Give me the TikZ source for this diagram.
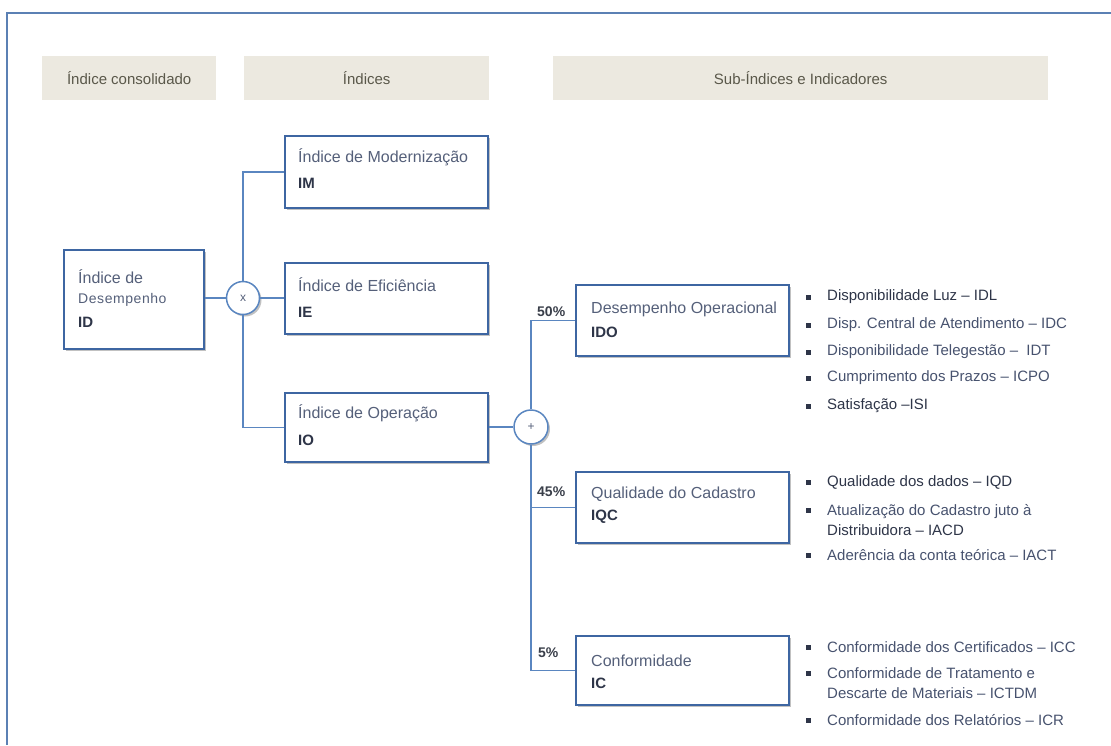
\documentclass[tikz,border=0pt]{standalone}
\usepackage{fontspec}
\setmainfont{Liberation Sans}
\usetikzlibrary{shadows}
\definecolor{framecol}{HTML}{5B80B4}
\definecolor{hdrfill}{HTML}{ECE9E0}
\definecolor{hdrtext}{HTML}{5A584A}
\definecolor{boxline}{HTML}{3E66A2}
\definecolor{conn}{HTML}{5A86C0}
\definecolor{ttext}{HTML}{55607A}
\definecolor{dtext}{HTML}{2E3548}
\definecolor{btext}{HTML}{47526E}
\definecolor{pcttext}{HTML}{3A3F4A}
\tikzset{
  hdr/.style={fill=hdrfill, draw=none, anchor=north west, inner sep=0pt,
    text=hdrtext, font=\fontsize{15}{18}\selectfont},
  ibox/.style={draw=boxline, line width=1.8pt, fill=white, anchor=north west,
    inner sep=0pt,
    drop shadow={shadow xshift=2.5pt, shadow yshift=-2.5pt, opacity=0.35, fill=black!70}},
  ttl/.style={anchor=west, inner sep=0pt, text=ttext, font=\fontsize{16}{19}\selectfont},
  code/.style={anchor=west, inner sep=0pt, text=dtext, font=\fontsize{15}{18}\selectfont\bfseries},
  opcirc/.style={circle, draw=conn, line width=1.5pt, fill=white, inner sep=0pt,
    minimum size=33pt, text=ttext, font=\fontsize{12}{14}\selectfont,
    drop shadow={shadow xshift=2pt, shadow yshift=-2pt, opacity=0.35, fill=black!70}},
  link/.style={draw=conn, line width=1.5pt},
  pct/.style={anchor=west, inner sep=0pt, text=pcttext, font=\fontsize{14}{17}\selectfont\bfseries},
  itm/.style={anchor=west, inner sep=0pt, text=btext, align=left, font=\fontsize{15}{20}\selectfont},
  itmd/.style={itm, text=dtext},
}
\newcommand{\sqbul}[1]{\fill[dtext] (805.5,#1-2.5) rectangle (810.5,#1+2.5);}
\begin{document}
\begin{tikzpicture}[x=1pt,y=-1pt]
\useasboundingbox (0,0) rectangle (1111,745);
% frame
\coordinate (fa) at (7,745);
\coordinate (fb) at (7,13);
\coordinate (fc) at (1111,13);
\draw[framecol, line width=2.5pt] (fa) -- (fb) -- (fc);
% headers
\node[hdr, minimum width=174pt, minimum height=44pt] (h1) at (42,56) {Índice consolidado};
\node[hdr, minimum width=245pt, minimum height=44pt] (h2) at (244,56) {Índices};
\node[hdr, minimum width=495pt, minimum height=44pt] (h3) at (553,56) {Sub-Índices e Indicadores};
% boxes
\node[ibox, minimum width=140pt, minimum height=99pt] (ID) at (63,249) {};
\node[ibox, minimum width=203pt, minimum height=72pt] (IM) at (284,135) {};
\node[ibox, minimum width=203pt, minimum height=71pt] (IE) at (284,262) {};
\node[ibox, minimum width=203pt, minimum height=69pt] (IO) at (284,392) {};
\node[ibox, minimum width=213pt, minimum height=71pt] (IDO) at (575,284) {};
\node[ibox, minimum width=213pt, minimum height=71pt] (IQC) at (575,471) {};
\node[ibox, minimum width=213pt, minimum height=69pt] (IC) at (575,635) {};
% circles
\node[opcirc] (xc) at (243,298) {x};
\node[opcirc, minimum size=34pt] (pc) at (531,427) {+};
% connectors
\draw[link] (xc.west) -- (xc.west -| ID.east);
\draw[link] (xc.east) -- (xc.east -| IE.west);
\draw[link] (xc.north) |- (IM.west);
\draw[link] (xc.south) |- (IO.west);
\draw[link] (pc.west) -- (pc.west -| IO.east);
\draw[link] (pc.north) |- (IDO.west);
\draw[link] (pc.south) |- (IQC.west);
\draw[link] (pc.south) |- (IC.west);
% box texts
\node[ttl] (IDt1) at ([shift={(15,28)}]ID.north west) {Índice de};
\node[ttl, font=\fontsize{14}{17}\selectfont\addfontfeature{LetterSpace=4}] (IDt2) at ([shift={(15,51)}]ID.north west) {Desempenho};
\node[code] (IDt3) at ([shift={(15,73)}]ID.north west) {ID};
\node[ttl] (IMt) at ([shift={(14,22)}]IM.north west) {Índice de Modernização};
\node[code] (IMc) at ([shift={(14,48)}]IM.north west) {IM};
\node[ttl] (IEt) at ([shift={(14,23)}]IE.north west) {Índice de Eficiência};
\node[code] (IEc) at ([shift={(14,50)}]IE.north west) {IE};
\node[ttl] (IOt) at ([shift={(14,21)}]IO.north west) {Índice de Operação};
\node[code] (IOc) at ([shift={(14,48)}]IO.north west) {IO};
\node[ttl] (IDOt) at ([shift={(16,25)}]IDO.north west) {Desempenho Operacional};
\node[code] (IDOc) at ([shift={(16,48)}]IDO.north west) {IDO};
\node[ttl] (IQCt) at ([shift={(16,23)}]IQC.north west) {Qualidade do Cadastro};
\node[code] (IQCc) at ([shift={(16,46)}]IQC.north west) {IQC};
\node[ttl] (ICt) at ([shift={(16,26)}]IC.north west) {Conformidade};
\node[code] (ICc) at ([shift={(16,48)}]IC.north west) {IC};
% percentages
\node[pct] (p50) at (537,312) {50\%};
\node[pct] (p45) at (537,492) {45\%};
\node[pct] (p5) at (538,653) {5\%};
% IDO indicators
\sqbul{297}\node[itmd] (i1) at (827,297) {Disponibilidade Luz – IDL};
\sqbul{325}\node[itm] (i2) at (827,325) {Disp. Central de Atendimento – IDC};
\sqbul{352}\node[itm] (i3) at (827,352) {Disponibilidade Telegestão –\ \ IDT};
\sqbul{378}\node[itm] (i4) at (827,378) {Cumprimento dos Prazos – ICPO};
\sqbul{406}\node[itmd] (i5) at (827,406) {Satisfação –ISI};
% IQC indicators
\sqbul{482}\node[itmd] (q1) at (827,482) {Qualidade dos dados – IQD};
\sqbul{510}\node[itm, anchor=north west] (q2) at (827,504) {Atualização do Cadastro juto à\\\textcolor{dtext}{Distribuidora – IACD}};
\sqbul{555}\node[itm] (q3) at (827,555) {Aderência da conta teórica – IACT};
% IC indicators
\sqbul{647}\node[itm] (c1) at (827,647) {Conformidade dos Certificados – ICC};
\sqbul{673}\node[itm, anchor=north west] (c2) at (827,667) {Conformidade de Tratamento e\\Descarte de Materiais – ICTDM};
\sqbul{720}\node[itm] (c3) at (827,720) {Conformidade dos Relatórios – ICR};
\end{tikzpicture}
\end{document}
